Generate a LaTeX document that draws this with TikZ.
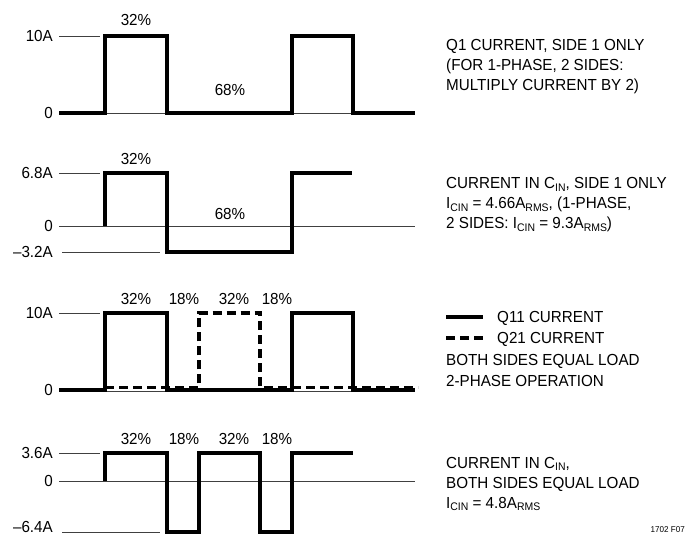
\documentclass[tikz,border=0pt]{standalone}
\usepackage{fontspec}
\setmainfont{Liberation Sans}[FakeStretch=0.95]
\newcommand{\lsub}[1]{\raisebox{-2.3pt}{\fontsize{11}{11}\selectfont #1}}

\begin{document}
\begin{tikzpicture}[x=1pt,y=-1pt,
    wave/.style={line width=3.2pt},
    dashwave/.style={line width=3.2pt,dash pattern=on 9pt off 5pt},
    guide/.style={line width=0.7pt,black!75},
    lvl/.style={anchor=east,inner sep=0pt,font=\fontsize{16}{20}\selectfont},
    pct/.style={inner sep=0pt,font=\fontsize{16}{20}\selectfont},
    txt/.style={anchor=base west,inner sep=0pt,font=\fontsize{16}{20}\selectfont}]
    \useasboundingbox (0,0) rectangle (686,537);
    % Q1 current
    \draw[guide] (59,113)--(415,113);
    \draw[guide] (59,36)--(100,36);
    \draw[wave] (59,113)--(105,113)--(105,36)--(167,36)--(167,113)--(292,113)--(292,36)--(353,36)--(353,113)--(415,113);
    \node[lvl] (qa) at (53,36) {10A};
    \node[lvl] (qb) at (53,113) {0};
    \node[pct] (qc) at (136,20) {32\%};
    \node[pct] (qd) at (230,90) {68\%};
    \node[txt] (qe) at (446,51) {Q1 CURRENT, SIDE 1 ONLY};
    \node[txt] (qf) at (446,71) {(FOR 1-PHASE, 2 SIDES:};
    \node[txt] (qg) at (446,91) {MULTIPLY CURRENT BY 2)};
    % C_IN current, side 1
    \draw[guide] (59,226)--(415,226);
    \draw[guide] (59,173)--(100,173);
    \draw[guide] (62,252)--(160,252);
    \draw[wave] (105,226)--(105,173)--(167,173)--(167,252)--(292,252)--(292,173)--(352,173);
    \node[lvl] (ca) at (53,173) {6.8A};
    \node[lvl] (cb) at (53,226) {0};
    \node[lvl] (cc) at (53,252) {–3.2A};
    \node[pct] (cd) at (136,159) {32\%};
    \node[pct] (ce) at (230,214) {68\%};
    \node[txt] (cf) at (446,189) {CURRENT IN C\lsub{IN}, SIDE 1 ONLY};
    \node[txt] (cg) at (446,209) {I\lsub{CIN} = 4.66A\lsub{RMS}, (1-PHASE,};
    \node[txt] (ch) at (446,229) {2 SIDES: I\lsub{CIN} = 9.3A\lsub{RMS})};
    % Q11 and Q21 currents
    \draw[guide] (59,391)--(415,391);
    \draw[guide] (59,313)--(100,313);
    \draw[wave] (59,390)--(105,390)--(105,313)--(167,313)--(167,390)--(292,390)--(292,313)--(353,313)--(353,390)--(415,390);
    \draw[dashwave] (105,387.5)--(199,387.5)--(199,313)--(260,313)--(260,387.5)--(418,387.5);
    \node[lvl] (pa) at (53,313) {10A};
    \node[lvl] (pb) at (53,390) {0};
    \node[pct] (pc) at (136,299) {32\%};
    \node[pct] (pd) at (184,299) {18\%};
    \node[pct] (pe) at (234,299) {32\%};
    \node[pct] (pf) at (277,299) {18\%};
    \coordinate (la) at (446,317);
    \coordinate (lb) at (483,317);
    \coordinate (lc) at (446,338);
    \coordinate (ld) at (483,338);
    \draw[wave] (la)--(lb);
    \draw[dashwave] (lc)--(ld);
    \node[txt] (pg) at (497,323) {Q11 CURRENT};
    \node[txt] (ph) at (497,344) {Q21 CURRENT};
    \node[txt] (pi) at (446,366) {BOTH SIDES EQUAL LOAD};
    \node[txt] (pj) at (446,387) {2-PHASE OPERATION};
    % C_IN current, both sides
    \draw[guide] (59,481)--(415,481);
    \draw[guide] (59,453)--(100,453);
    \draw[guide] (62,532)--(160,532);
    \draw[wave] (105,481)--(105,453)--(167,453)--(167,532)--(199,532)--(199,453)--(260,453)--(260,532)--(292,532)--(292,453)--(353,453);
    \node[lvl] (ba) at (53,453) {3.6A};
    \node[lvl] (bb) at (53,481) {0};
    \node[lvl] (bc) at (53,527) {–6.4A};
    \node[pct] (bd) at (136,439) {32\%};
    \node[pct] (be) at (184,439) {18\%};
    \node[pct] (bf) at (234,439) {32\%};
    \node[pct] (bg) at (277,439) {18\%};
    \node[txt] (bh) at (446,468) {CURRENT IN C\lsub{IN},};
    \node[txt] (bi) at (446,488) {BOTH SIDES EQUAL LOAD};
    \node[txt] (bj) at (446,508) {I\lsub{CIN} = 4.8A\lsub{RMS}};
    \node[anchor=base east,inner sep=0pt,font=\fontsize{8.5}{10}\selectfont] (fig) at (685,532) {1702 F07};
\end{tikzpicture}
\end{document}
